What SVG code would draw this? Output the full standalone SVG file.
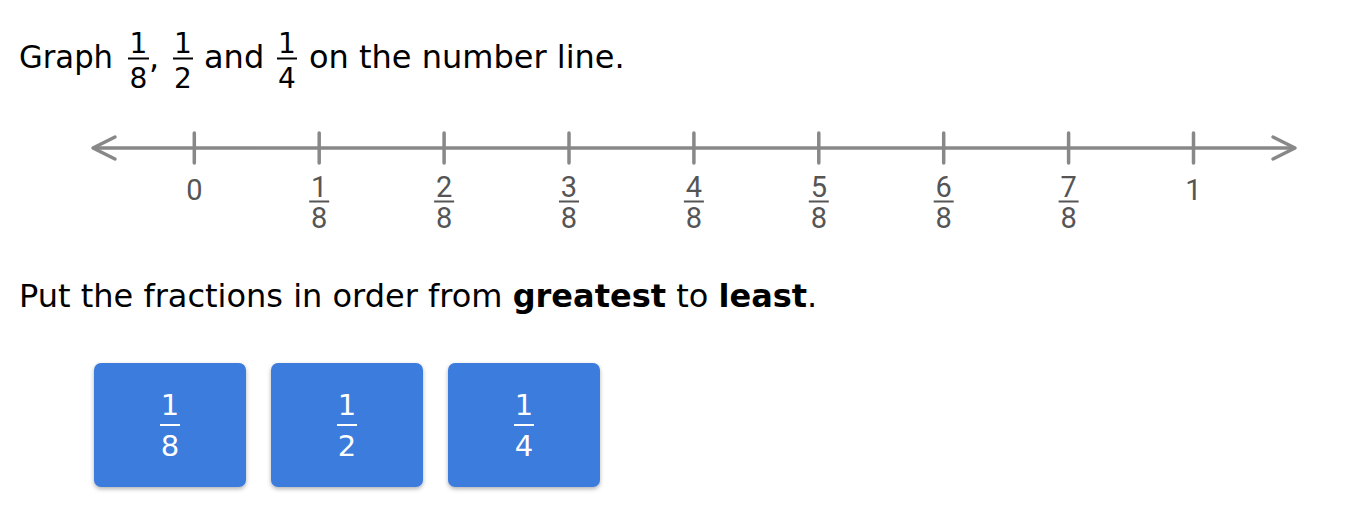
<svg xmlns="http://www.w3.org/2000/svg" width="1348" height="514" viewBox="0 0 1348 514">
<defs>
<style>
.t{font-family:"DejaVu Sans",Verdana,sans-serif;font-size:32px;fill:#000}
.tf{font-family:"DejaVu Sans",Verdana,sans-serif;font-size:28px;fill:#000;text-anchor:middle}
.b{font-weight:bold}
.ax{stroke:#888;stroke-width:3.5;stroke-linecap:round;fill:none;stroke-linejoin:round}
.lb{font-family:Roboto,"Liberation Sans",sans-serif;font-size:29px;fill:#555;text-anchor:middle}
.fb{stroke:#555;stroke-width:2}
.tb{stroke:#000;stroke-width:2}
.btn{fill:#3a7bdc}
.bt{font-family:"DejaVu Sans",Verdana,sans-serif;font-size:29px;fill:#fff;text-anchor:middle}
.wb{stroke:#fff;stroke-width:2}
</style>
<filter id="sh" x="-10%" y="-10%" width="120%" height="130%">
<feDropShadow dx="0" dy="2" stdDeviation="2" flood-color="#000" flood-opacity="0.3"/>
</filter>
</defs>
<g id="title">
<text class="t" x="19" y="68" textLength="94" lengthAdjust="spacingAndGlyphs">Graph</text>
<text class="tf" x="138.5" y="53">1</text>
<line class="tb" x1="128" y1="58.5" x2="149" y2="58.5"/>
<text class="tf" x="138.5" y="88">8</text>
<text class="t" x="149" y="68">,</text>
<text class="tf" x="183" y="53">1</text>
<line class="tb" x1="173" y1="58.5" x2="193" y2="58.5"/>
<text class="tf" x="183" y="88">2</text>
<text class="t" x="204" y="68">and</text>
<text class="tf" x="287" y="53">1</text>
<line class="tb" x1="277" y1="58.5" x2="297" y2="58.5"/>
<text class="tf" x="287" y="88">4</text>
<text class="t" x="309" y="68">on the number line.</text>
</g>
<g id="numberline">
<line class="ax" x1="94" y1="148" x2="1294" y2="148"/>
<polyline class="ax" points="115,137 93,148 115,159"/>
<polyline class="ax" points="1273,137 1295,148 1273,159"/>
<g class="ax">
<line x1="194.3" y1="133" x2="194.3" y2="163"/>
<line x1="319.2" y1="133" x2="319.2" y2="163"/>
<line x1="444.1" y1="133" x2="444.1" y2="163"/>
<line x1="569" y1="133" x2="569" y2="163"/>
<line x1="693.9" y1="133" x2="693.9" y2="163"/>
<line x1="818.8" y1="133" x2="818.8" y2="163"/>
<line x1="943.7" y1="133" x2="943.7" y2="163"/>
<line x1="1068.6" y1="133" x2="1068.6" y2="163"/>
<line x1="1193.5" y1="133" x2="1193.5" y2="163"/>
</g>
<text class="lb" x="194.3" y="200">0</text>
<text class="lb" x="1193.5" y="200">1</text>
<g id="l1"><text class="lb" x="319.2" y="197">1</text><line class="fb" x1="309.2" y1="201.5" x2="329.2" y2="201.5"/><text class="lb" x="319.2" y="228">8</text></g>
<g id="l2"><text class="lb" x="444.1" y="197">2</text><line class="fb" x1="434.1" y1="201.5" x2="454.1" y2="201.5"/><text class="lb" x="444.1" y="228">8</text></g>
<g id="l3"><text class="lb" x="569" y="197">3</text><line class="fb" x1="559" y1="201.5" x2="579" y2="201.5"/><text class="lb" x="569" y="228">8</text></g>
<g id="l4"><text class="lb" x="693.9" y="197">4</text><line class="fb" x1="683.9" y1="201.5" x2="703.9" y2="201.5"/><text class="lb" x="693.9" y="228">8</text></g>
<g id="l5"><text class="lb" x="818.8" y="197">5</text><line class="fb" x1="808.8" y1="201.5" x2="828.8" y2="201.5"/><text class="lb" x="818.8" y="228">8</text></g>
<g id="l6"><text class="lb" x="943.7" y="197">6</text><line class="fb" x1="933.7" y1="201.5" x2="953.7" y2="201.5"/><text class="lb" x="943.7" y="228">8</text></g>
<g id="l7"><text class="lb" x="1068.6" y="197">7</text><line class="fb" x1="1058.6" y1="201.5" x2="1078.6" y2="201.5"/><text class="lb" x="1068.6" y="228">8</text></g>
</g>
<g id="instruction">
<text class="t" x="19" y="307">Put the fractions in order from <tspan class="b">greatest</tspan> to <tspan class="b">least</tspan>.</text>
</g>
<g id="card1">
<rect class="btn" x="94" y="363" width="152" height="124" rx="7" filter="url(#sh)"/>
<text class="bt" x="170" y="415">1</text>
<line class="wb" x1="160" y1="425" x2="180" y2="425"/>
<text class="bt" x="170" y="456">8</text>
</g>
<g id="card2">
<rect class="btn" x="271" y="363" width="152" height="124" rx="7" filter="url(#sh)"/>
<text class="bt" x="347" y="415">1</text>
<line class="wb" x1="337" y1="425" x2="357" y2="425"/>
<text class="bt" x="347" y="456">2</text>
</g>
<g id="card3">
<rect class="btn" x="448" y="363" width="152" height="124" rx="7" filter="url(#sh)"/>
<text class="bt" x="524" y="415">1</text>
<line class="wb" x1="514" y1="425" x2="534" y2="425"/>
<text class="bt" x="524" y="456">4</text>
</g>
</svg>
